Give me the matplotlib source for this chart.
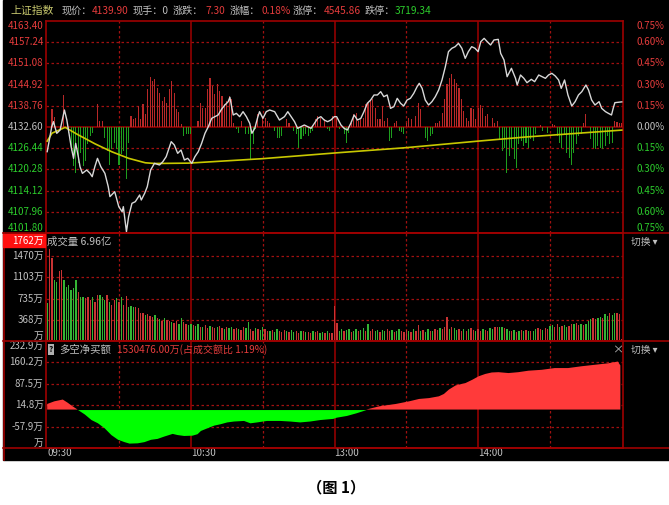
import numpy as np
import matplotlib
matplotlib.use('Agg')
import matplotlib.pyplot as plt
from matplotlib.lines import Line2D
from matplotlib.patches import Rectangle

plt.rcParams['font.family'] = ['Noto Sans CJK SC', 'DejaVu Sans']

# ---------------- data ----------------
prev_close = 4132.60
price_ticks = [4101.80, 4107.96, 4114.12, 4120.28, 4126.44, 4132.60,
               4138.76, 4144.92, 4151.08, 4157.24, 4163.40]

# price line (minute from 09:30, index points)
price_min = [0, 1.9, 2.6, 4.0, 5.4, 7.2, 8.2, 10.0, 11.0, 11.9, 13.0, 13.7, 14.7, 16.5,
             17.9, 18.8, 19.9, 21.0, 22.4, 24.1, 25.5, 26.2, 28.2, 29.9, 31.3, 31.8,
             33.1, 34.0, 35.4, 36.8, 38.6, 39.3, 40.7, 41.8, 43.2, 44.8, 46.9, 48.3,
             49.7, 51.8, 53.1, 54.5, 55.9, 57.3, 58.7,
             60.4, 61.7, 63.1, 64.5, 65.9, 67.3, 68.7, 70.0, 71.4, 72.8, 74.2, 75.6,
             76.3, 77.7, 79.0, 80.4, 81.8, 83.2, 84.6, 85.5, 86.7, 88.0, 88.7, 90.1,
             91.5, 92.9, 95.0, 97.0, 99.1, 100.5, 101.9, 103.3, 104.6, 106.0, 107.4,
             108.8, 110.2, 111.6, 113.0, 114.3, 115.7, 117.1, 118.5, 119.9,
             120.9, 122.7, 124.0, 125.4, 126.8, 128.2, 129.6, 131.0, 132.3, 133.7,
             135.1, 136.5, 137.9, 139.3, 140.6, 142.0, 143.4, 144.8, 146.2, 147.6,
             148.9, 150.3, 151.7, 153.1, 154.5, 155.4, 156.6, 157.9, 159.3, 160.7,
             162.1, 163.5, 164.9, 166.3, 167.6, 169.0, 170.4, 171.8, 173.2, 174.6,
             175.9, 177.3, 178.7, 180.0, 181.1, 182.5, 183.8, 185.2, 186.6, 188.4,
             189.4, 190.8, 192.1, 193.9, 195.6, 196.3, 197.7, 199.1, 200.4, 202.2,
             203.6, 205.3, 206.7, 208.1, 209.4, 210.8, 212.2, 213.6, 214.7, 216.1,
             217.5, 219.1, 220.5, 221.9, 223.3, 225.0, 226.1, 227.4, 228.8, 230.5,
             231.6, 233.2, 234.4, 235.7, 236.4, 237.1, 240]
price_val = [4125.43, 4132.70, 4134.15, 4130.76, 4131.73, 4137.54, 4134.63, 4126.88,
             4123.49, 4127.85, 4123.98, 4121.07, 4119.13, 4120.10, 4119.13, 4118.17,
             4121.07, 4123.49, 4121.07, 4119.13, 4115.26, 4112.36, 4113.81, 4109.45,
             4107.99, 4109.45, 4102.18, 4106.54, 4110.42, 4110.90, 4112.84, 4111.39,
             4113.32, 4115.26, 4120.10, 4122.04, 4121.56, 4122.52, 4123.98, 4128.34,
             4127.37, 4124.95, 4125.91, 4123.01, 4123.50,
             4122.04, 4123.98, 4125.43, 4127.85, 4130.76, 4132.70, 4135.12, 4135.60,
             4136.09, 4137.73, 4138.99, 4139.96, 4141.22, 4136.09, 4136.57, 4135.60,
             4137.05, 4135.60, 4133.66, 4130.76, 4132.21, 4135.60, 4137.05, 4135.12,
             4137.05, 4137.54, 4137.05, 4134.63, 4135.60, 4137.05, 4135.60, 4134.15,
             4132.21, 4132.70, 4133.18, 4132.70, 4132.21, 4133.66, 4135.12, 4135.60,
             4134.63, 4134.15, 4134.63, 4135.60,
             4135.60, 4133.18, 4132.21, 4131.73, 4133.66, 4136.09, 4134.63, 4135.12,
             4137.05, 4139.48, 4140.44, 4141.90, 4141.90, 4142.87, 4141.41, 4141.90,
             4138.02, 4138.51, 4140.93, 4139.48, 4138.70, 4140.44, 4140.93, 4142.38,
             4144.32, 4145.29, 4143.83, 4140.44, 4138.99, 4139.96, 4141.41, 4143.35,
             4146.26, 4150.13, 4154.49, 4155.46, 4155.94, 4156.91, 4155.46, 4152.55,
             4154.49, 4155.94, 4155.46, 4154.49, 4157.39, 4158.36, 4157.39, 4156.43,
             4157.88, 4158.07, 4154.00, 4152.07, 4147.22, 4149.65, 4146.74, 4144.80,
             4147.71, 4146.74, 4145.48, 4146.45, 4145.77, 4147.71, 4147.22, 4146.74,
             4147.71, 4148.19, 4147.42, 4146.26, 4143.83, 4146.26, 4141.90, 4138.70,
             4139.96, 4141.90, 4142.87, 4144.80, 4143.35, 4140.44, 4138.99, 4139.96,
             4138.02, 4137.05, 4136.57, 4136.09, 4138.02, 4139.67, 4139.90]

# average price line
avg_min = [0, 2, 7.5, 13, 20, 27, 34, 41, 45, 59, 90, 121, 150, 180, 200, 240]
avg_val = [4128.5, 4130.8, 4132.5, 4130.3, 4127.7, 4125.4, 4123.5, 4122.2, 4122.0,
           4122.1, 4123.4, 4125.1, 4126.6, 4128.5, 4129.7, 4131.7]

# red / green strength bars around previous close (index points)
bar_min = [2, 3, 7, 9, 10, 11, 12, 13, 14, 15, 16, 17, 18, 19, 21, 22, 23,
           24, 25, 26, 27, 28, 29, 30, 31, 32, 33, 34,
           35, 36, 37, 38, 39, 40, 41, 42, 43, 44, 45, 46, 47, 48, 49, 50, 51, 52,
           53, 54, 55, 56, 57, 58, 59, 60,
           63, 64, 65, 66, 67, 68, 69, 70, 71, 72, 73, 74, 75, 76, 77, 78,
           79, 80, 81, 83, 84, 85, 86, 87, 88, 90, 91, 92, 93,
           95, 96, 97, 98, 100, 101, 103, 104, 105, 106, 107, 108, 109, 110, 111,
           112, 113, 114, 116, 117, 118, 119,
           121, 122, 124, 125, 126, 127, 128, 129, 130, 131, 132, 133, 134, 135,
           136, 137, 138, 139, 140, 141, 142, 143, 144, 145, 146, 147, 148, 149,
           150, 151, 152, 154, 155, 156, 158, 159, 160, 161,
           162, 163, 164, 165, 166, 167, 168, 169, 170, 171, 172, 173, 174, 175,
           176, 177, 178, 179, 180, 181, 182, 183, 184, 186, 187, 188,
           189, 190, 191, 192, 193, 194, 195, 196, 197, 198, 199, 200, 201, 202,
           203, 204, 206, 207, 209, 211, 212,
           213, 214, 215, 216, 217, 218, 219, 220, 221, 222, 223, 224, 225,
           227, 228, 229, 230, 231, 232, 233, 234, 235, 236, 237, 238, 239, 240]
bar_val = [5.1, 3.0, 9.2, -1.6, -7.0, -11.3, -13.3, -10.4, -7.5, -11.3, -9.9, -5.0,
           -2.6, -1.6, 6.6, 1.7, 1.7,
           -3.1, -7.0, -10.9, -6.5, -4.6, -6.5, -10.9, -7.9, -7.0, -15.2, -4.6,
           3.2, 2.2, 2.7, 6.1, 2.2, 6.6, 3.7, 10.9, 14.6, 13.4, 13.9, 11.4, 10.0,
           7.6, 8.8, 7.1, 10.9, 13.4, 10.0, 5.1, 4.4, 0.8, -2.6, -2.1, -2.1, -2.1,
           1.7, 7.0, 5.6, 5.6, 10.9, 14.3, 11.9, 9.5, 12.4, 10.5, 9.0, 6.6, 7.6,
           9.0, 8.0, 1.3,
           -0.7, -1.6, 1.7, -2.1, -2.1, -9.4, -5.0, -0.7, 3.7, 3.2, 2.7, 1.7, 1.3,
           -1.2, -3.1, -3.1, -2.6, 2.2, 1.3, -1.2, -2.1, -6.0, -3.6, -2.6, -2.1,
           -2.6, -1.6, -1.2, 2.2, 3.2, 2.7, 2.2, -0.7, -1.2, 3.2,
           2.7, -0.7, -2.1, -4.6, -1.6, 1.3, 3.7, 4.2, 1.7, 2.2, 2.7, 6.6, 7.1, 7.6,
           8.0, 5.6, 2.2, 2.2, 6.1, 1.7, 2.7, -4.1, -3.1, 1.3, 1.7, -1.2, -1.5, -2.1,
           1.3, 2.7, 2.2, 3.2, 7.1, 5.1, -3.1, -4.1, -2.6, -2.1,
           1.1, 1.3, 1.7, 4.2, 8.0, 12.4, 14.3, 15.3, 13.9, 12.9, 11.4, 8.0, 4.7,
           2.7, 1.7, 5.6, 5.3, 2.2, 5.6, 6.3, 5.6, 3.2, 3.7, 2.7, 1.3, 1.7,
           -3.6, -7.0, -6.0, -13.5, -8.5, -6.0, -9.4, -11.8, -5.0, -4.1, -5.5, -4.6,
           -6.0, -3.6, -4.1, -2.1, 0.5, -1.2, -1.6, 0.8, 0.5,
           -2.6, -4.6, -6.0, -2.1, -7.5, -8.9, -10.9, -7.5, -5.0, -2.6, -2.1, 1.3, 3.7,
           -3.6, -6.0, -6.5, -5.5, -6.0, -6.5, -5.5, -2.6, -5.0, -4.6, 1.7, 1.5, 1.3, 1.3]

# volume per minute (万)
volume = [651, 1585, 1430, 1055, 1026, 1216, 1228, 1055, 940, 968,
          882, 911, 1055, 853, 767, 767, 738, 767, 709, 767,
          680, 796, 796, 767, 709, 796, 680, 623, 709, 738,
          680, 767, 623, 778, 594, 605, 582, 594, 565, 490,
          479, 450, 467, 432, 409, 450, 392, 375, 352, 392,
          363, 340, 330, 310, 345, 300, 392, 320, 290, 280,
          300, 270, 260, 290, 250, 240, 275, 230, 260, 250,
          220, 240, 260, 230, 210, 250, 220, 240, 200, 230,
          210, 190, 240, 220, 335, 200, 180, 230, 210, 190,
          236, 200, 180, 170, 190, 160, 200, 175, 150, 185,
          170, 160, 190, 150, 175, 140, 165, 180, 150, 160,
          140, 170, 150, 165, 130, 155, 145, 170, 140, 130,
          605, 305, 180, 200, 170, 190, 210, 160, 180, 200,
          170, 190, 220, 180, 294, 170, 200, 180, 190, 160,
          185, 170, 200, 175, 190, 160, 180, 200, 170, 150,
          190, 175, 160, 200, 180, 277, 170, 190, 160, 210,
          180, 170, 200, 185, 230, 210, 240, 409, 200, 248,
          220, 190, 200, 170, 210, 180, 200, 220, 190, 180,
          210, 170, 200, 190, 180, 220, 200, 248, 250, 240,
          250, 230, 200, 180, 170, 190, 160, 175, 185, 170,
          190, 165, 180, 170, 200, 220, 210, 190, 225, 215,
          260, 280, 250, 300, 240, 260, 270, 250, 260, 300,
          290, 310, 280, 300, 270, 295, 350, 380, 400, 375,
          400, 420, 390, 460, 430, 480, 450, 490, 480, 467,
          30]
vol_dir = ("grrggrrggg" "gggrggrrrg" "rrgggrgrrg" "rgrrgggrrr" "rgrrrgrgrg"
           "rrgrrggrrg" "grggrgrrgr" "rgrrgrggrr" "grrggrrgrg" "grrgrggrrr"
           "grggrrgrgr" "rgrrggrgrr" "rrggrggrgg" "rggrgrrggr" "ggrrgrggrr"
           "rgrgrrgrgg" "rgrrgrrrgr" "ggrrgrgrrg" "rrgrrggrrg" "grggrgrgrg"
           "rgrggrrgrr" "ggrrgrggrr" "grrgrgggrr" "ggrggrggrr" "r")
vol_ticks = [367.5, 735, 1102.5, 1470]
vol_labels = ['368万', '735万', '1103万', '1470万']

# net buy (万)
net_min = [0, 3, 6.5, 8.6, 10.6, 12.7, 15.5, 18.3, 21, 23.8, 26.6, 29.4, 32.1, 34.2,
           37.6, 40.4, 43.2, 45.9, 48.7, 52.2, 54.3, 57, 60.5, 62.6, 64, 66.7, 69.5,
           72.3, 75, 77.8, 82, 84.7, 87.5, 91.6, 97.2, 101.3, 105.5, 109.6, 113.8,
           119.3, 120.7, 125, 129, 133.2, 138.7, 145.6, 151.2, 155.3, 159.5, 163.6,
           165.7, 167.8, 170.6, 174.7, 177.5, 180.2, 183, 185.7, 188.5, 192.7, 196.8,
           201, 206.5, 212, 217.6, 223.1, 228.6, 234.2, 238.3, 239.4]
net_val = [19, 28, 34, 23, 11, 0, -15, -34, -45, -62, -85, -101, -109, -114, -113,
           -109, -101, -98, -90, -81, -85, -88, -87, -82, -71, -62, -53, -48, -42,
           -39, -37, -45, -42, -37, -37, -39, -42, -39, -34, -30, -26, -20, -11, 0,
           11, 19, 28, 36, 39, 45, 53, 68, 82, 90, 101, 113, 121, 126, 127, 124, 127,
           132, 135, 141, 141, 147, 152, 157, 163, 150]
net_ticks = [-130.6, -57.9, 14.8, 87.5, 160.2, 232.9]
net_labels = ['万', '-57.9万', '14.8万', '87.5万', '160.2万', '232.9万']

time_ticks = [0, 60, 120, 180]
time_labels = ['09:30', '10:30', '13:00', '14:00']

# ---------------- style ----------------
W, H = 669, 505
GRAY = '#c0c0c0'
RED_T = '#e63c3c'
GREEN_T = '#2ccc2c'
LINE_RED = '#9e0000'
DASH_RED = '#a01010'
FS = 7


def px(x):
    return x / W


def py(y):
    return 1 - y / H


fig = plt.figure(figsize=(W / 100, H / 100), dpi=100, facecolor='white')
fig.patches.append(Rectangle((px(3), py(460)), px(669) - px(3), py(0) - py(460),
                             transform=fig.transFigure, color='black', zorder=-10))


def hline(y, x0=3, x1=669):
    fig.add_artist(Line2D([px(x0), px(x1)], [py(y), py(y)], color=LINE_RED, lw=1.2,
                          zorder=5))


def make_ax(top, bottom):
    ax = fig.add_axes([px(46), py(bottom), px(623) - px(46), py(top) - py(bottom)])
    ax.set_facecolor('black')
    ax.set_xlim(-0.5, 240.5)
    ax.set_xticks([])
    ax.set_yticks([])
    for s in ax.spines.values():
        s.set_color(LINE_RED)
        s.set_linewidth(1.2)
    for m in [30, 90, 150, 210]:
        ax.axvline(m, color=DASH_RED, lw=0.9, ls=(0, (2, 2)), zorder=1)
    for m in [60, 120, 180]:
        ax.axvline(m, color=LINE_RED, lw=1.1, zorder=1)
    return ax


# ---------- price panel ----------
ax_p = make_ax(21, 233)
ax_p.set_ylim(price_ticks[0], price_ticks[-1])
for t in price_ticks[1:-1]:
    if t == prev_close:
        ax_p.axhline(t, color=LINE_RED, lw=1.1, zorder=1)
    else:
        ax_p.axhline(t, color=DASH_RED, lw=0.9, ls=(0, (2, 2)), zorder=1)
bar_col = ['#b82828' if v > 0 else '#1e9e1e' for v in bar_val]
ax_p.bar(bar_min, bar_val, bottom=prev_close, width=0.45, color=bar_col, zorder=2)
ax_p.plot(avg_min, avg_val, color='#c8c800', lw=1.2, zorder=3)
ax_p.plot(price_min, price_val, color='#d8d8d8', lw=1.0, zorder=4)

yt = ax_p.get_yaxis_transform()
for i, t in enumerate(price_ticks):
    va = 'top' if i == len(price_ticks) - 1 else ('bottom' if i == 0 else 'center')
    if abs(t - prev_close) < 1e-6:
        c = GRAY
    else:
        c = RED_T if t > prev_close else GREEN_T
    pct = abs(t - prev_close) / prev_close * 100
    ax_p.text(-0.004, t, f'{t:.2f}', transform=yt, ha='right', va=va,
              color=c, fontsize=FS, clip_on=False)
    ax_p.text(1.072, t, f'{pct:.2f}%', transform=yt, ha='right', va=va,
              color=c, fontsize=FS, clip_on=False)

# ---------- volume panel ----------
ax_v = make_ax(233, 341)
ax_v.set_ylim(0, 1868)
for t in vol_ticks:
    ax_v.axhline(t, color=DASH_RED, lw=0.9, ls=(0, (2, 2)), zorder=1)
vcol = ['#c83434' if d == 'r' else '#34b434' for d in vol_dir]
ax_v.bar(np.arange(len(volume)), volume, width=0.55, color=vcol, zorder=2)
yt = ax_v.get_yaxis_transform()
for t, lab in zip(vol_ticks, vol_labels):
    ax_v.text(-0.004, t, lab, transform=yt, ha='right', va='center',
              color=GRAY, fontsize=FS, clip_on=False)
ax_v.text(-0.004, 0, '万', transform=yt, ha='right', va='bottom',
          color=GRAY, fontsize=FS, clip_on=False)
fig.patches.append(Rectangle((px(3), py(247)), px(45) - px(3), py(234) - py(247),
                             transform=fig.transFigure, color='#ff1010', zorder=5))
fig.text(px(44), py(240.5), '1762万', ha='right', va='center', color='white',
         fontsize=FS, zorder=6)
fig.text(px(47), py(242), '成交量 6.96亿', ha='left', va='center', color=GRAY,
         fontsize=FS + 0.5)
fig.text(px(631), py(242), '切换 ▾', ha='left', va='center', color=GRAY, fontsize=FS)

# ---------- net buy panel ----------
ax_n = make_ax(341, 448)
ax_n.set_ylim(net_ticks[0], net_ticks[-1])
for t in net_ticks[1:-1]:
    ax_n.axhline(t, color=DASH_RED, lw=0.9, ls=(0, (2, 2)), zorder=1)
nm = np.array(net_min)
nv = np.array(net_val)
ax_n.fill_between(nm, nv, 0, where=nv >= 0, interpolate=True, color='#ff3a3a',
                  lw=0, zorder=2)
ax_n.fill_between(nm, nv, 0, where=nv <= 0, interpolate=True, color='#00ff00',
                  lw=0, zorder=2)
yt = ax_n.get_yaxis_transform()
for i, (t, lab) in enumerate(zip(net_ticks, net_labels)):
    va = 'top' if i == len(net_ticks) - 1 else ('bottom' if i == 0 else 'center')
    ax_n.text(-0.004, t, lab, transform=yt, ha='right', va=va,
              color=GRAY, fontsize=FS, clip_on=False)
fig.text(px(48.5), py(349.5), '?', ha='left', va='center', color='black',
         fontsize=FS - 1, fontweight='bold',
         bbox=dict(boxstyle='square,pad=0.12', fc='#b0b0b0', ec='none'))
fig.text(px(59), py(349.5), '多空净买额', ha='left', va='center', color=GRAY,
         fontsize=FS + 0.5)
fig.text(px(117), py(349.5), '1530476.00万(占成交额比 1.19%)', ha='left', va='center',
         color=RED_T, fontsize=FS + 0.2)
fig.text(px(612), py(349.5), '×', ha='left', va='center', color=GRAY, fontsize=FS + 1)
fig.text(px(631), py(349.5), '切换 ▾', ha='left', va='center', color=GRAY, fontsize=FS)

xt = ax_n.get_xaxis_transform()
for m, lab in zip(time_ticks, time_labels):
    ax_n.text(m, -0.045, lab, transform=xt, ha='left', va='center', color=GRAY,
              fontsize=FS, clip_on=False)

# ---------- frame lines and title bar ----------
hline(233)
hline(341)
hline(448)
fig.add_artist(Line2D([px(3.5), px(3.5)], [py(233), py(460)], color=LINE_RED, lw=1.2,
                      zorder=5))

title_parts = [(10, '上证指数', '#c8c86e'), (62, '现价：', GRAY), (92, '4139.90', RED_T),
               (133, '现手：0', GRAY), (173, '涨跌：', GRAY), (205, '7.30', RED_T),
               (230, '涨幅：', GRAY), (262, '0.18%', RED_T), (293, '涨停：', GRAY),
               (324, '4545.86', RED_T), (365, '跌停：', GRAY), (395, '3719.34', GREEN_T)]
for x, s, c in title_parts:
    fs = FS + 0.8 if s == '上证指数' else FS + 0.3
    fig.text(px(x), py(10.5), s, ha='left', va='center', color=c, fontsize=fs)

fig.text(px(336), py(487), '（图 1）', ha='center', va='center', color='black',
         fontsize=11, fontweight='bold')

fig.savefig('out.png', dpi=100, facecolor='white')
